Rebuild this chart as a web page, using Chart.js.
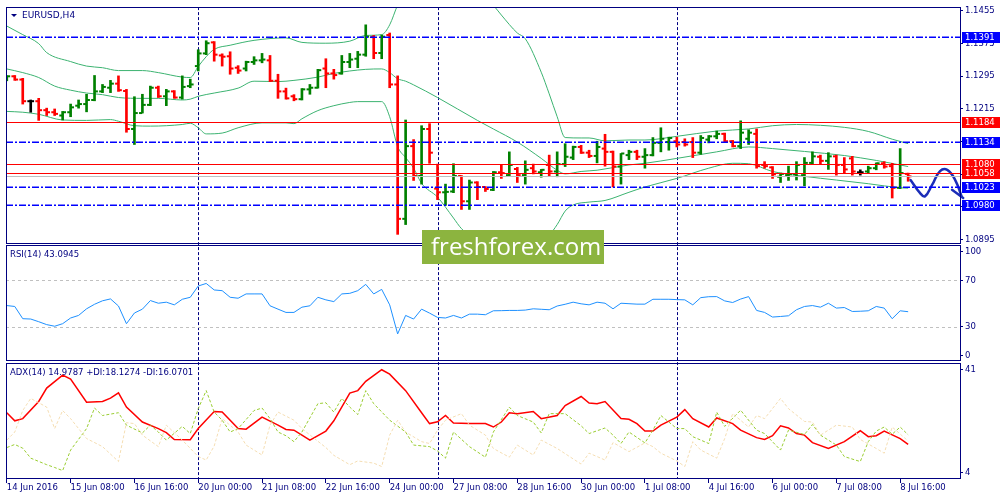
<!DOCTYPE html>
<html>
<head>
<meta charset="utf-8">
<title>EURUSD,H4</title>
<script src="https://cdn.jsdelivr.net/npm/chart.js@4.4.1/dist/chart.umd.min.js"></script>
<style>
  body { margin: 0; background: #fff; }
  canvas { display: block; }
</style>
</head>
<body>
<canvas id="chart" width="1000" height="500"></canvas>
<script>
// bar 0 = 14 Jun 2016 00:00, one bar per 4 hours, a time label every 8 bars
const timeLabels = ['14 Jun 2016', '15 Jun 08:00', '16 Jun 16:00', '20 Jun 00:00', '21 Jun 08:00',
  '22 Jun 16:00', '24 Jun 00:00', '27 Jun 08:00', '28 Jun 16:00', '30 Jun 00:00',
  '1 Jul 08:00', '4 Jul 16:00', '6 Jul 00:00', '7 Jul 08:00', '8 Jul 16:00'];
const weekStarts = [24, 54, 84];

const open = [1.1285, 1.1295, 1.1287, 1.1234, 1.1234, 1.1212, 1.1207, 1.1199, 1.1207, 1.1223,
  1.1227, 1.1237, 1.1258, 1.1267, 1.1277, 1.1259, 1.1166, 1.1205, 1.1225, 1.1267,
  1.1246, 1.1258, 1.1243, 1.1271, 1.1320, 1.1351, 1.1378, 1.1346, 1.1344, 1.1316,
  1.1314, 1.1330, 1.1334, 1.1334, 1.1284, 1.1258, 1.1246, 1.1239, 1.1263, 1.1267,
  1.1314, 1.1302, 1.1302, 1.1330, 1.1338, 1.1348, 1.1391, 1.1352, 1.1396, 1.1275,
  1.0946, 1.1124, 1.1051, 1.1166, 1.1020, 1.1011, 1.1013, 1.1051, 1.0989, 1.1035,
  1.1024, 1.1017, 1.1060, 1.1053, 1.1068, 1.1053, 1.1070, 1.1060, 1.1078, 1.1062,
  1.1080, 1.1096, 1.1122, 1.1108, 1.1100, 1.1118, 1.1110, 1.1074, 1.1102, 1.1110,
  1.1098, 1.1102, 1.1132, 1.1134, 1.1136, 1.1134, 1.1134, 1.1108, 1.1140, 1.1148,
  1.1154, 1.1136, 1.1124, 1.1142, 1.1154, 1.1078, 1.1072, 1.1049, 1.1053, 1.1055,
  1.1053, 1.1083, 1.1098, 1.1088, 1.1099, 1.1078, 1.1094, 1.1060, 1.1062, 1.1070,
  1.1082, 1.1075, 1.1022, 1.1056];
const high = [1.1296, 1.1297, 1.1290, 1.1237, 1.1241, 1.1217, 1.1215, 1.1209, 1.1227, 1.1237,
  1.1251, 1.1297, 1.1275, 1.1285, 1.1296, 1.1263, 1.1245, 1.1251, 1.1271, 1.1271,
  1.1263, 1.1260, 1.1296, 1.1288, 1.1360, 1.1382, 1.1380, 1.1350, 1.1355, 1.1321,
  1.1332, 1.1343, 1.1351, 1.1346, 1.1300, 1.1266, 1.1250, 1.1265, 1.1275, 1.1312,
  1.1338, 1.1312, 1.1346, 1.1351, 1.1356, 1.1421, 1.1395, 1.1396, 1.1401, 1.1296,
  1.1188, 1.1140, 1.1174, 1.1179, 1.1080, 1.1031, 1.1081, 1.1052, 1.1041, 1.1037,
  1.1025, 1.1062, 1.1079, 1.1110, 1.1072, 1.1088, 1.1080, 1.1067, 1.1102, 1.1110,
  1.1130, 1.1124, 1.1126, 1.1114, 1.1136, 1.1153, 1.1112, 1.1106, 1.1114, 1.1114,
  1.1118, 1.1145, 1.1169, 1.1146, 1.1146, 1.1142, 1.1145, 1.1150, 1.1150, 1.1161,
  1.1156, 1.1138, 1.1186, 1.1164, 1.1166, 1.1086, 1.1074, 1.1058, 1.1075, 1.1086,
  1.1096, 1.1110, 1.1102, 1.1108, 1.1102, 1.1096, 1.1099, 1.1066, 1.1075, 1.1083,
  1.1086, 1.1082, 1.1118, 1.1058];
const low = [1.1284, 1.1285, 1.1227, 1.1207, 1.1187, 1.1199, 1.1199, 1.1188, 1.1196, 1.1217,
  1.1208, 1.1235, 1.1255, 1.1255, 1.1258, 1.1158, 1.1128, 1.1205, 1.1223, 1.1243,
  1.1223, 1.1241, 1.1239, 1.1267, 1.1308, 1.1348, 1.1332, 1.1320, 1.1300, 1.1302,
  1.1308, 1.1324, 1.1328, 1.1282, 1.1241, 1.1239, 1.1235, 1.1237, 1.1251, 1.1266,
  1.1267, 1.1288, 1.1300, 1.1316, 1.1316, 1.1344, 1.1338, 1.1338, 1.1267, 1.0908,
  1.0932, 1.1040, 1.1031, 1.1082, 1.0993, 1.0979, 1.1010, 1.0969, 1.0969, 1.0993,
  1.1013, 1.1015, 1.1045, 1.1051, 1.1035, 1.1031, 1.1056, 1.1048, 1.1051, 1.1049,
  1.1074, 1.1091, 1.1106, 1.1096, 1.1083, 1.1075, 1.1024, 1.1031, 1.1091, 1.1091,
  1.1070, 1.1100, 1.1110, 1.1114, 1.1122, 1.1124, 1.1096, 1.1104, 1.1132, 1.1142,
  1.1134, 1.1122, 1.1118, 1.1128, 1.1070, 1.1070, 1.1045, 1.1035, 1.1040, 1.1041,
  1.1027, 1.1080, 1.1080, 1.1067, 1.1053, 1.1059, 1.1053, 1.1053, 1.1058, 1.1066,
  1.1070, 1.0997, 1.1020, 1.1038];
const close = [1.1295, 1.1287, 1.1234, 1.1234, 1.1212, 1.1207, 1.1203, 1.1207, 1.1219, 1.1227,
  1.1237, 1.1258, 1.1269, 1.1277, 1.1261, 1.1166, 1.1205, 1.1225, 1.1267, 1.1246,
  1.1258, 1.1243, 1.1269, 1.1275, 1.1351, 1.1376, 1.1348, 1.1343, 1.1314, 1.1309,
  1.1330, 1.1334, 1.1336, 1.1284, 1.1258, 1.1241, 1.1239, 1.1263, 1.1267, 1.1310,
  1.1302, 1.1298, 1.1330, 1.1336, 1.1348, 1.1392, 1.1352, 1.1392, 1.1275, 1.0946,
  1.1124, 1.1051, 1.1166, 1.1108, 1.1011, 1.1012, 1.1051, 1.0989, 1.1035, 1.1024,
  1.1019, 1.1060, 1.1058, 1.1078, 1.1053, 1.1066, 1.1062, 1.1066, 1.1062, 1.1080,
  1.1098, 1.1122, 1.1108, 1.1100, 1.1122, 1.1110, 1.1074, 1.1106, 1.1110, 1.1098,
  1.1102, 1.1132, 1.1142, 1.1144, 1.1128, 1.1128, 1.1108, 1.1144, 1.1148, 1.1154,
  1.1136, 1.1124, 1.1157, 1.1157, 1.1075, 1.1075, 1.1055, 1.1056, 1.1055, 1.1078,
  1.1083, 1.1099, 1.1088, 1.1099, 1.1078, 1.1067, 1.1062, 1.1060, 1.1070, 1.1082,
  1.1074, 1.1022, 1.1058, 1.1050];

// Bollinger bands, read as [bar, price] vertices
const bbUpper = [[0, 1.1418], [2, 1.1397], [4, 1.1375], [5, 1.1353], [8, 1.1331], [10, 1.1320],
  [12, 1.1316], [14, 1.1309], [17, 1.1309], [19, 1.1304], [22, 1.1293], [23, 1.1292], [24, 1.1319],
  [25, 1.1343], [26, 1.1361], [28, 1.1371], [31, 1.1383], [35, 1.1389], [37, 1.1378], [40, 1.1376],
  [43, 1.1381], [45, 1.1395], [47, 1.1397], [48, 1.1421], [49, 1.1470], [50, 1.1510], [52, 1.1540],
  [55, 1.1550], [58, 1.1520], [60, 1.1490], [61, 1.1469], [62, 1.1445], [64, 1.1401], [65, 1.1387],
  [67, 1.1305], [68, 1.1252], [69, 1.1196], [70, 1.1145], [72, 1.1144], [73, 1.1144], [75, 1.1137],
  [78, 1.1139], [80, 1.1139], [84, 1.1148], [89, 1.1161], [93, 1.1166], [96, 1.1174], [99, 1.1177],
  [102, 1.1175], [105, 1.1170], [108, 1.1160], [111, 1.1141], [113, 1.1130]];
const bbMiddle = [[0, 1.1313], [2, 1.1304], [4, 1.1292], [6, 1.1271], [8, 1.1261], [10, 1.1254],
  [12, 1.1250], [14, 1.1243], [17, 1.1241], [19, 1.1241], [22, 1.1237], [23, 1.1239], [24, 1.1246],
  [26, 1.1254], [29, 1.1266], [31, 1.1283], [34, 1.1282], [36, 1.1285], [39, 1.1293], [41, 1.1302],
  [45, 1.1312], [47, 1.1313], [48, 1.1304], [49, 1.1289], [50, 1.1283], [51, 1.1274], [54, 1.1243],
  [59, 1.1187], [61, 1.1166], [64, 1.1134], [67, 1.1094], [69, 1.1065], [70, 1.1056], [72, 1.1062],
  [74, 1.1065], [78, 1.1078], [80, 1.1082], [84, 1.1094], [89, 1.1110], [93, 1.1122], [96, 1.1118],
  [100, 1.1111], [105, 1.1101], [109, 1.1089], [113, 1.1074]];
const bbLower = [[0, 1.1209], [2, 1.1207], [4, 1.1202], [7, 1.1188], [10, 1.1187], [13, 1.1189],
  [14, 1.1185], [16, 1.1174], [18, 1.1173], [22, 1.1177], [23, 1.1180], [24, 1.1169], [25, 1.1154],
  [27, 1.1156], [29, 1.1169], [32, 1.1181], [35, 1.1181], [36, 1.1179], [37, 1.1191], [39, 1.1211],
  [41, 1.1223], [43, 1.1231], [44, 1.1233], [47, 1.1233], [48, 1.1196], [49, 1.1123], [50, 1.1096],
  [51, 1.1070], [52, 1.1033], [54, 1.0999], [56, 1.0948], [57, 1.0922], [58, 1.0907], [60, 1.0893],
  [63, 1.0888], [66, 1.0893], [68, 1.0907], [69, 1.0932], [70, 1.0965], [71, 1.0980], [73, 1.0987],
  [75, 1.0991], [78, 1.1011], [80, 1.1024], [84, 1.1045], [88, 1.1070], [91, 1.1082], [93, 1.1081],
  [96, 1.1062], [100, 1.1050], [104, 1.1041], [108, 1.1032], [112, 1.1022], [113, 1.1021]];

const rsi = [48.4, 47.6, 37.1, 36.8, 34.5, 32.0, 30.6, 32.8, 37.7, 39.9,
  45.6, 49.5, 52.5, 54.1, 48.0, 32.8, 42.0, 45.3, 52.7, 50.4,
  51.3, 49.0, 53.8, 55.5, 65.2, 67.4, 61.8, 61.2, 55.5, 54.7,
  58.4, 58.4, 58.4, 48.2, 45.3, 42.5, 42.5, 47.0, 48.2, 55.5,
  53.3, 51.8, 58.4, 58.9, 61.2, 66.6, 58.4, 62.3, 49.0, 24.0,
  39.9, 36.8, 45.3, 41.9, 38.2, 37.7, 39.9, 37.7, 41.0, 41.0,
  40.5, 43.9, 44.0, 44.2, 44.2, 44.5, 45.6, 45.2, 44.8, 48.0,
  49.5, 51.3, 49.9, 49.0, 51.3, 50.4, 45.6, 50.4, 50.0, 49.6,
  49.6, 53.8, 53.8, 53.8, 53.5, 53.3, 49.0, 55.2, 56.0, 56.1,
  52.4, 51.0, 54.0, 56.1, 44.2, 42.5, 38.5, 39.0, 39.6, 44.8,
  47.6, 48.4, 47.0, 50.4, 46.2, 46.7, 43.3, 43.5, 43.9, 47.6,
  46.2, 37.1, 43.9, 43.1];

// ADX(14) lines, read as [bar, value] vertices
const adxMain = [[0, 25.2], [1, 22.6], [2, 23.3], [4, 28.8], [5, 33.1], [7, 37.3], [8, 36], [10, 28.6],
  [12, 28.8], [13, 29.9], [14, 31.6], [15, 27], [17, 22.2], [19, 20.1], [20, 18.8], [21, 16.6],
  [23, 16.5], [24, 20.1], [26, 25.6], [27, 25.4], [29, 20.1], [30, 19.9], [32, 23.8], [34, 21.2],
  [35, 19.8], [36, 19.6], [37, 18], [38, 16.4], [40, 19.3], [41, 22.6], [43, 31.5], [44, 32.3],
  [45, 35.3], [47, 39], [48, 37.6], [50, 32.3], [52, 25.2], [53, 21.7], [54, 22.3], [55, 24.3],
  [56, 21.9], [58, 21.7], [60, 21.7], [61, 20.6], [62, 22.2], [63, 25.2], [64, 24.9], [66, 25.6],
  [67, 23.3], [69, 24.3], [70, 27.5], [72, 30.4], [73, 28.3], [74, 28.1], [75, 28.8], [77, 23.3],
  [78, 23.1], [79, 21.7], [80, 19.3], [81, 19.3], [82, 21.2], [84, 23.8], [85, 26.2], [86, 23.3],
  [88, 20.6], [89, 23.5], [91, 21.7], [92, 19.6], [94, 17.2], [95, 16.6], [96, 17.8], [97, 21],
  [98, 20.3], [99, 18.5], [100, 18], [101, 15.6], [103, 13.7], [105, 15.9], [107, 19.4], [108, 17.5],
  [109, 17.8], [110, 19.3], [112, 16.9], [113, 15.0]];
const plusDI = [[0, 14], [1, 15], [2, 13.8], [3, 10.6], [5, 8.5], [6, 7.6], [7, 6.6], [8, 13.2],
  [10, 20.1], [11, 26.7], [12, 24.3], [14, 25.2], [15, 21.2], [17, 18.7], [18, 21.2], [19, 19],
  [20, 16.4], [22, 20.8], [23, 18.5], [24, 26.5], [25, 32.3], [26, 25.4], [27, 22.8], [28, 19],
  [29, 20.1], [31, 25.9], [32, 26.7], [33, 23.3], [34, 19], [35, 17.8], [36, 15.9], [37, 19],
  [39, 28.1], [40, 28.4], [41, 25.4], [42, 29.8], [43, 27], [44, 24.6], [45, 32.3], [46, 28.1],
  [48, 22.8], [50, 19], [51, 14.8], [53, 14.3], [54, 12.9], [55, 10.6], [56, 19], [58, 14.3],
  [60, 10.9], [61, 19], [63, 27], [64, 24.3], [66, 22.2], [67, 18.7], [68, 24.9], [70, 24.9],
  [72, 21], [73, 18.5], [75, 20.3], [76, 18], [77, 15.3], [78, 19], [80, 15.5], [81, 19.6],
  [82, 24.3], [84, 20.1], [85, 20.1], [86, 17.5], [88, 15.3], [89, 25.4], [90, 20.8], [92, 26],
  [94, 19.6], [95, 18.5], [97, 13.2], [98, 19.6], [100, 18.2], [101, 21.4], [102, 18], [104, 14.8],
  [105, 11.1], [107, 9.5], [108, 15.9], [109, 19.3], [110, 20.6], [111, 18.3], [112, 20.6], [113, 18.1]];
const minusDI = [[0, 16.4], [1, 19], [2, 25.9], [3, 29.8], [5, 27], [6, 20.1], [7, 25.9], [8, 23.3],
  [10, 16.9], [12, 14.3], [14, 9.5], [15, 22], [16, 21.7], [17, 18], [19, 14.3], [20, 21.2],
  [22, 16.4], [24, 11.1], [25, 10], [26, 14.5], [27, 23.3], [29, 19], [30, 14.8], [32, 11.6],
  [33, 21.2], [34, 25.4], [36, 22.8], [37, 20.1], [40, 14], [41, 11.5], [43, 8.5], [44, 9.7],
  [46, 9], [47, 7.9], [48, 18], [49, 22.8], [50, 19], [52, 15.9], [53, 15.3], [54, 19.6],
  [55, 22.8], [57, 24.9], [58, 21.2], [60, 18], [61, 13.7], [63, 10.9], [64, 14.8], [66, 11.6],
  [67, 16.4], [69, 13.7], [72, 8.7], [73, 12.2], [75, 10], [76, 15.6], [78, 12.7], [80, 15.5],
  [81, 14.3], [82, 12.2], [84, 9.7], [85, 7.9], [86, 15.9], [87, 13.2], [89, 10.6], [90, 16.9],
  [91, 24.9], [93, 20.6], [94, 24.3], [95, 23.3], [97, 29.8], [98, 26.5], [100, 22.4], [101, 22.2],
  [102, 18], [104, 21.2], [106, 20.6], [107, 16.6], [109, 13.7], [110, 12.2], [111, 20.6], [113, 16.1]];

// hand-drawn forecast squiggle to the right of the last bar
const forecastPath = [[113.3, 1.1041], [114.5, 1.1009], [115.1, 1.1001], [116, 1.1029], [117, 1.1063],
  [117.9, 1.1066], [118.9, 1.1041], [119.7, 1.1001]];
const forecastBarb = [[118.5, 1.1017], [119.9, 1.0997]];

const blueLevels = [1.1391, 1.1134, 1.1023, 1.0980];
const redLevels = [1.1184, 1.1080, 1.1058];
const bidPrice = 1.1050;
const priceTicks = [1.1455, 1.1375, 1.1295, 1.1215, 1.1135, 1.1055, 1.0975, 1.0895];
const rsiLevels = [0, 30, 70, 100];
const adxTicks = [4, 41];

const NAVY = '#000080';
const FONT = 'DejaVu Sans';
Chart.defaults.font.family = FONT;
Chart.defaults.font.size = 8.5;
Chart.defaults.color = NAVY;

const idx = open.map((_, i) => i);
const barColor = idx.map(i => close[i] > open[i] ? '#008000' : close[i] < open[i] ? '#ff0000' : '#000000');
const pts = pairs => pairs.map(([x, y]) => ({x, y}));

function line(data, color, yAxisID, extra) {
  return Object.assign({type: 'line', data, borderColor: color, borderWidth: 1,
    pointRadius: 0, fill: false, yAxisID}, extra);
}

// tick labels at fixed levels; end labels nudged inward like the terminal does
function fixedTicks(levels, pad, fmt) {
  return axis => {
    const lo = Math.min(...levels), hi = Math.max(...levels);
    axis.ticks = levels.map(v => ({value: v === lo ? v + pad : v === hi ? v - pad : v, txt: fmt(v)}));
  };
}

function sideAxis(min, max, weight, ticker) {
  return {
    type: 'linear', position: 'right', stack: 'pane', stackWeight: weight,
    min, max, offset: false,
    afterBuildTicks: ticker,
    afterFit: ax => { ax.width = 40; },
    ticks: {callback: (v, k, t) => t[k].txt, autoSkip: false, padding: 2, color: NAVY},
    grid: {drawOnChartArea: false, tickLength: 3, color: NAVY},
    border: {display: false}
  };
}

function hline(ctx, x1, x2, y) {
  ctx.beginPath(); ctx.moveTo(x1, y); ctx.lineTo(x2, y); ctx.stroke();
}

const terminal = {
  id: 'terminal',
  beforeDatasetsDraw(chart) {
    const {ctx, chartArea: a, scales: {x, rsi}} = chart;
    ctx.save();
    ctx.lineWidth = 1;
    ctx.strokeStyle = NAVY;
    ctx.setLineDash([3, 2]);
    weekStarts.forEach(i => {
      const px = Math.round(x.getPixelForValue(i)) + 0.5;
      ctx.beginPath(); ctx.moveTo(px, a.top); ctx.lineTo(px, a.bottom); ctx.stroke();
    });
    ctx.strokeStyle = '#c0c0c0';
    ctx.setLineDash([3, 3]);
    [30, 70].forEach(v => hline(ctx, a.left, a.right, Math.round(rsi.getPixelForValue(v)) + 0.5));
    ctx.restore();
  },
  beforeDatasetDraw(chart, args) {
    const ds = chart.data.datasets[args.index];
    const sc = chart.scales[ds.yAxisID];
    const a = chart.chartArea;
    const ctx = chart.ctx;
    ctx.save();
    ctx.beginPath();
    ctx.rect(a.left, sc.top, (ds.wide ? chart.width : a.right) - a.left, sc.bottom - sc.top);
    ctx.clip();
  },
  afterDatasetDraw(chart) {
    chart.ctx.restore();
  },
  afterDatasetsDraw(chart) {
    const {ctx, chartArea: a, scales: {y}} = chart;
    ctx.save();
    ctx.lineWidth = 1;
    ctx.strokeStyle = '#c0c0c0';
    hline(ctx, a.left, a.right, Math.round(y.getPixelForValue(bidPrice)) + 0.5);
    ctx.strokeStyle = '#ff0000';
    redLevels.forEach(v => hline(ctx, a.left, a.right, Math.round(y.getPixelForValue(v)) + 0.5));
    ctx.strokeStyle = '#0000ff';
    ctx.lineWidth = 1.5;
    ctx.setLineDash([7, 2, 2, 2]);
    blueLevels.forEach(v => hline(ctx, a.left, a.right, Math.round(y.getPixelForValue(v)) + 0.25));
    ctx.restore();
  },
  afterDraw(chart) {
    const {ctx, chartArea: a, scales} = chart;
    const panes = [scales.y, scales.rsi, scales.adx];
    ctx.save();
    // panel frames
    ctx.strokeStyle = NAVY;
    ctx.lineWidth = 1;
    panes.forEach((s, k) => {
      const top = Math.floor(s.top) + (k ? 1.5 : 0.5);
      const bottom = Math.floor(s.bottom) - 0.5 - (k === 1 ? 1 : 0);
      ctx.strokeRect(Math.floor(a.left) + 0.5, top, Math.round(a.right) - Math.floor(a.left), bottom - top);
    });
    // price labels of the levels on the right scale
    ctx.font = '8.5px ' + FONT;
    ctx.textBaseline = 'middle';
    ctx.textAlign = 'left';
    const yb = scales.y.getPixelForValue(bidPrice);
    ctx.fillStyle = '#fff';
    ctx.fillRect(a.right + 2, yb - 5, 38, 10);
    ctx.fillStyle = NAVY;
    ctx.fillText(bidPrice.toFixed(4), a.right + 5, yb);
    const tag = (v, color) => {
      const py = Math.round(scales.y.getPixelForValue(v));
      ctx.fillStyle = color;
      ctx.fillRect(a.right + 2, py - 5, 38, 11);
      ctx.fillStyle = '#fff';
      ctx.fillText(v.toFixed(4), a.right + 5, py + 0.5);
    };
    blueLevels.forEach(v => tag(v, '#0000ff'));
    redLevels.forEach(v => tag(v, '#ff0000'));
    // window captions
    ctx.fillStyle = NAVY;
    ctx.beginPath();
    ctx.moveTo(a.left + 5, scales.y.top + 7);
    ctx.lineTo(a.left + 11, scales.y.top + 7);
    ctx.lineTo(a.left + 8, scales.y.top + 10);
    ctx.closePath();
    ctx.fill();
    ctx.font = '9px ' + FONT;
    ctx.fillText('EURUSD,H4', a.left + 16, scales.y.top + 8.5);
    ctx.font = '8.5px ' + FONT;
    ctx.fillText('RSI(14) 43.0945', a.left + 4, scales.rsi.top + 10.5);
    ctx.fillText('ADX(14) 14.9787 +DI:18.1274 -DI:16.0701', a.left + 4, scales.adx.top + 10);
    // broker watermark
    ctx.fillStyle = '#8cb43f';
    ctx.fillRect(422, 230, 182, 34);
    ctx.fillStyle = '#fff';
    ctx.font = '24px "Open Sans"';
    ctx.textBaseline = 'alphabetic';
    ctx.fillText('freshforex.com', 431, 255);
    ctx.restore();
  }
};

new Chart(document.getElementById('chart'), {
  type: 'bar',
  data: {
    datasets: [
      {type: 'bar', data: idx.map(i => ({x: i, y: [low[i], high[i]]})), backgroundColor: barColor,
        barThickness: 2, borderWidth: 0, yAxisID: 'y', order: 2},
      {type: 'scatter', data: idx.map(i => ({x: i - 0.22, y: open[i]})), yAxisID: 'y', order: 1,
        pointStyle: 'line', pointRadius: 1.6, pointBorderWidth: 2, pointBorderColor: barColor},
      {type: 'scatter', data: idx.map(i => ({x: i + 0.22, y: close[i]})), yAxisID: 'y', order: 1,
        pointStyle: 'line', pointRadius: 1.6, pointBorderWidth: 2, pointBorderColor: barColor},
      line(pts(bbUpper), '#3cb371', 'y', {cubicInterpolationMode: 'monotone', order: 3}),
      line(pts(bbMiddle), '#3cb371', 'y', {cubicInterpolationMode: 'monotone', order: 3}),
      line(pts(bbLower), '#3cb371', 'y', {cubicInterpolationMode: 'monotone', order: 3}),
      line(pts(forecastPath), '#1b2db8', 'y', {borderWidth: 2.5, tension: 0.45, wide: true, clip: false,
        borderCapStyle: 'round', borderJoinStyle: 'round', order: -1}),
      line(pts(forecastBarb), '#1b2db8', 'y', {borderWidth: 2.5, wide: true, clip: false,
        borderCapStyle: 'round', order: -1}),
      line(rsi.map((v, i) => ({x: i, y: v})), '#1e90ff', 'rsi'),
      line(pts(minusDI), '#f5deb3', 'adx', {borderDash: [3, 2]}),
      line(pts(plusDI), '#9acd32', 'adx', {borderDash: [3, 2]}),
      line(pts(adxMain), '#ff0000', 'adx', {borderWidth: 1.5})
    ]
  },
  options: {
    responsive: false,
    animation: false,
    events: [],
    layout: {padding: {left: 3, top: 2, right: 0, bottom: 0}},
    plugins: {legend: {display: false}, tooltip: {enabled: false}},
    scales: {
      x: {
        type: 'linear', min: -0.1, max: 119.5, offset: false,
        afterBuildTicks: ax => { ax.ticks = timeLabels.map((_, k) => ({value: k * 8})); },
        afterFit: ax => { ax.height = 21; },
        ticks: {callback: (v, k) => timeLabels[k], align: 'start', maxRotation: 0, autoSkip: false,
          padding: 0, color: NAVY},
        grid: {drawOnChartArea: false, tickLength: 4, color: NAVY, offset: false},
        border: {display: false}
      },
      y: sideAxis(1.08843, 1.14644, 239.5, fixedTicks(priceTicks, 0, v => v.toFixed(4))),
      rsi: sideAxis(-0.8, 101.3, 120, fixedTicks(rsiLevels, 5.5, String)),
      adx: sideAxis(3.9, 41.25, 117.5, fixedTicks(adxTicks, 2, String))
    }
  },
  plugins: [terminal]
});
</script>
</body>
</html>
